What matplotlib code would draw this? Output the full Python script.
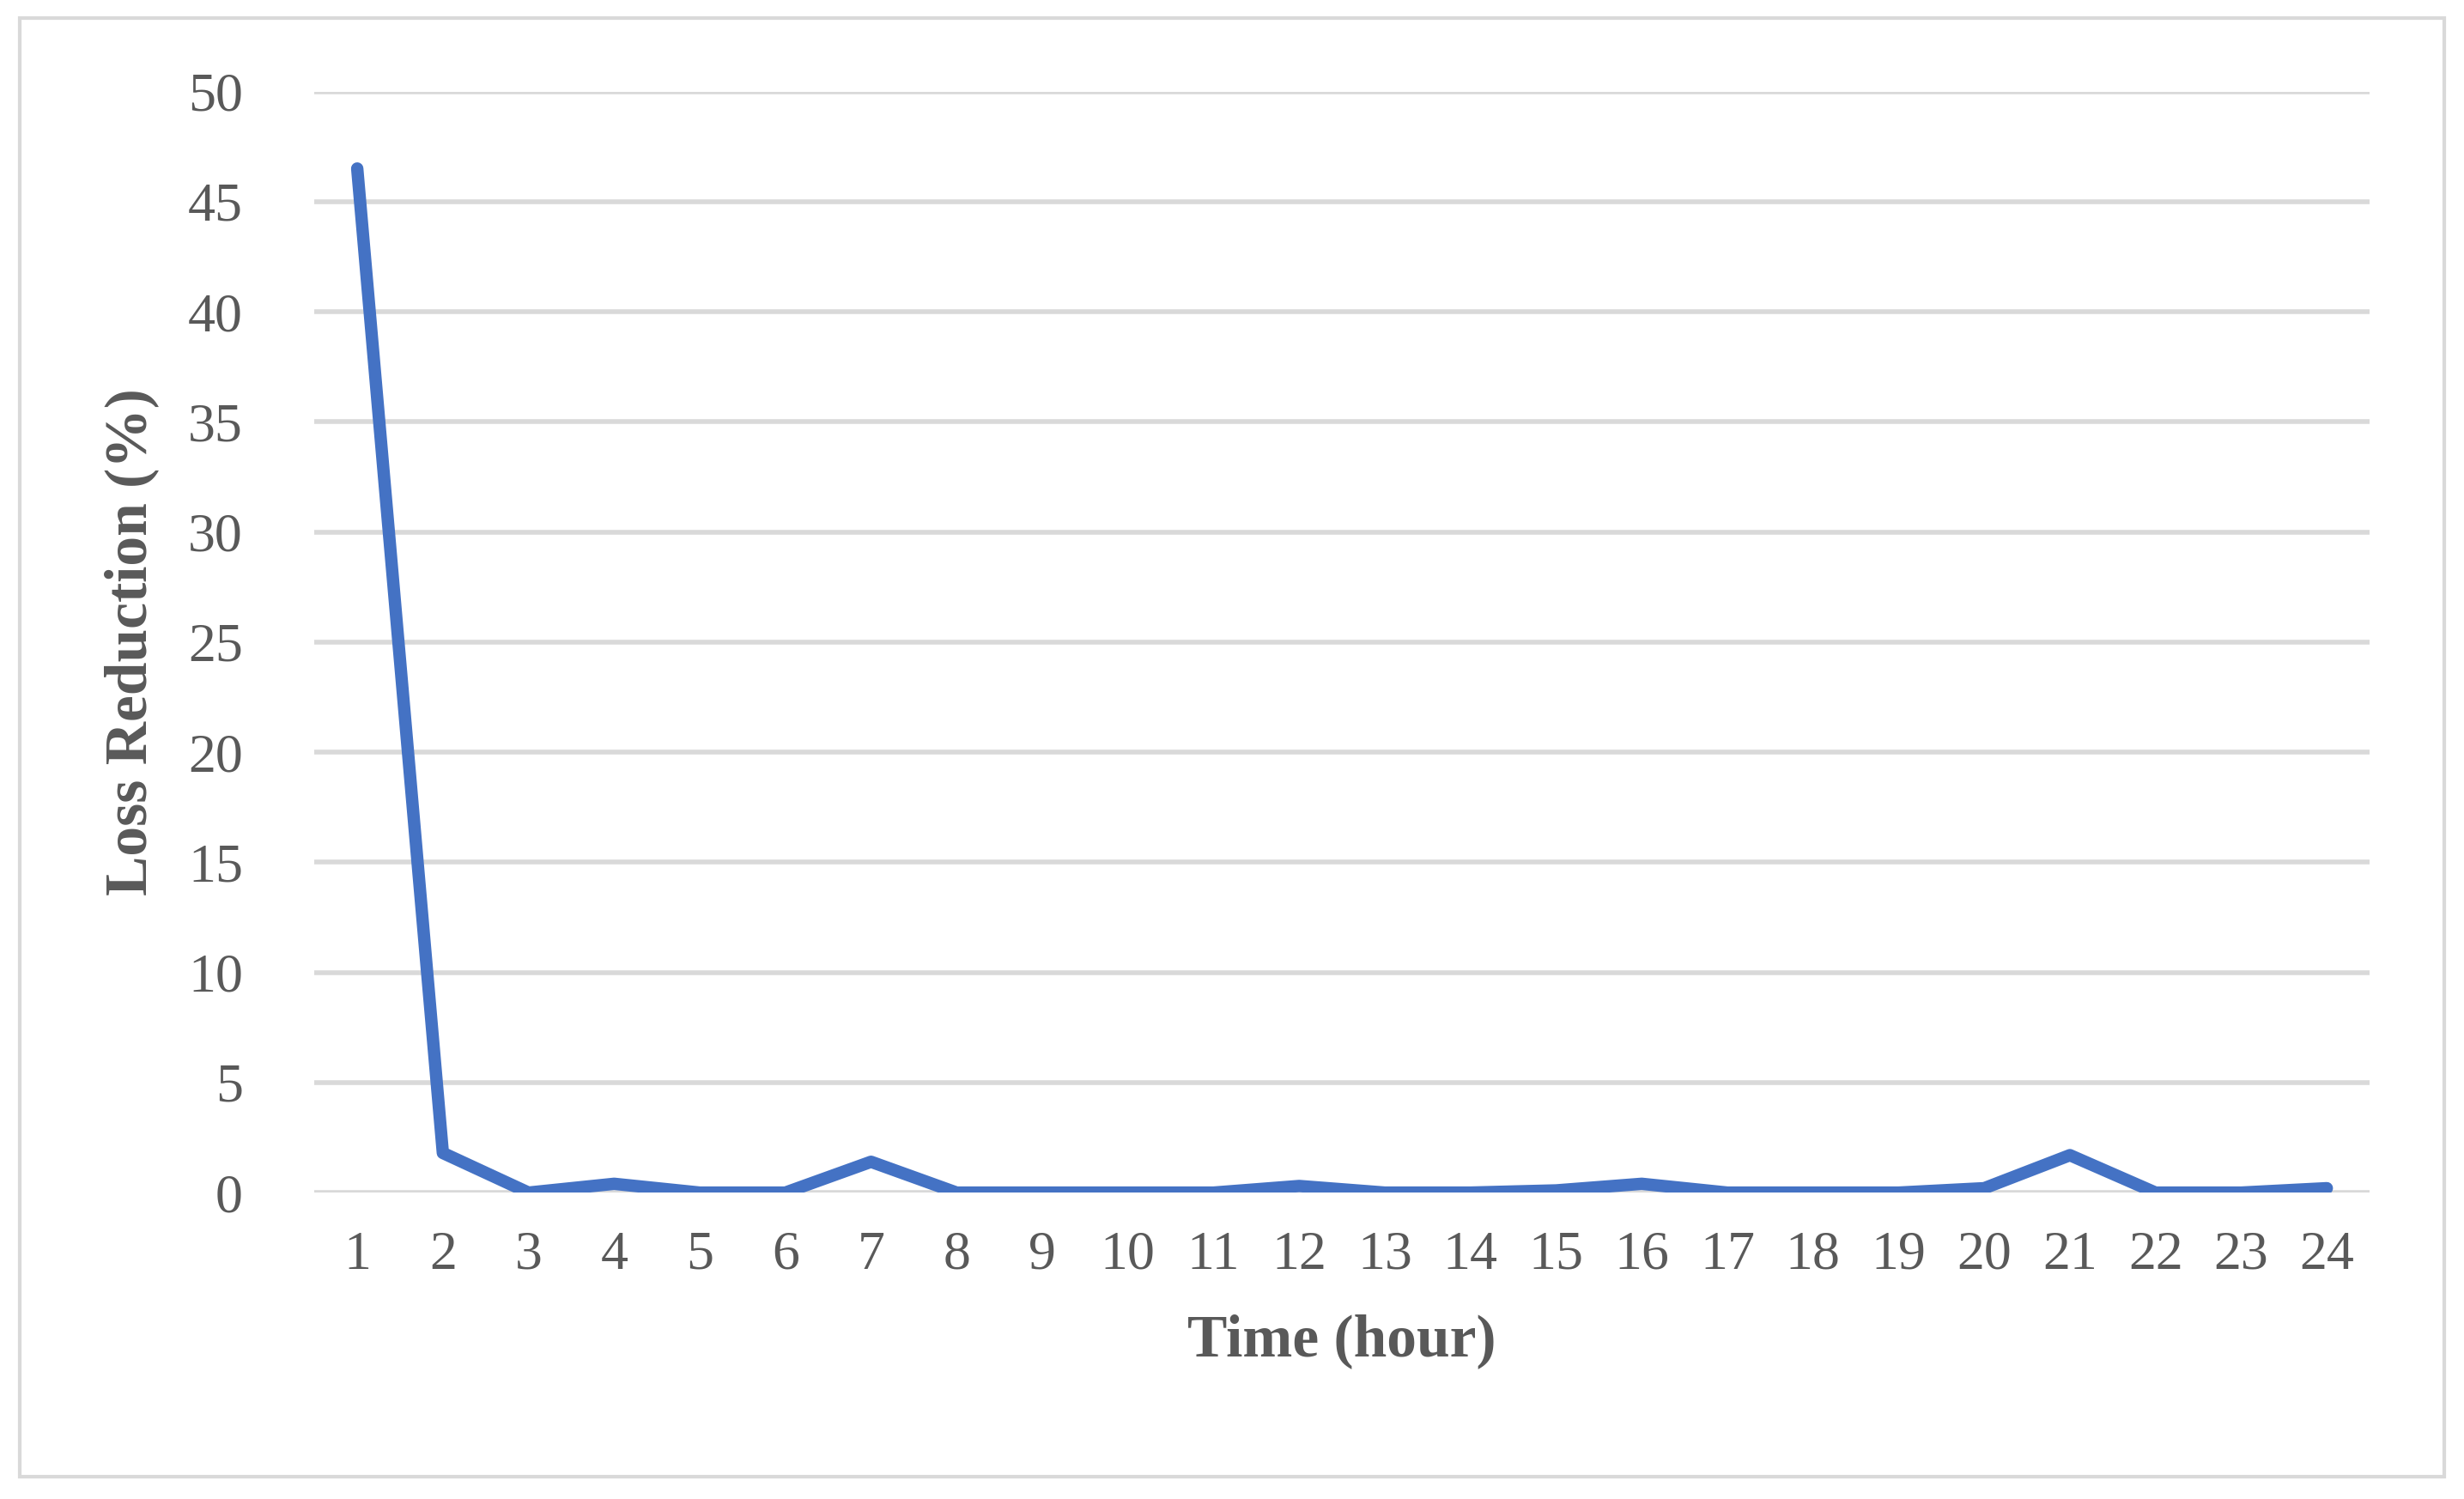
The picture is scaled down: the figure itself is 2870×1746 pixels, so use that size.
import matplotlib
matplotlib.use("Agg")
import matplotlib.pyplot as plt
from matplotlib.patches import Rectangle

hours = list(range(1, 25))
loss_reduction = [46.5, 1.8, 0.0, 0.4, 0.0, 0.0, 1.4, 0.0, 0.0, 0.0, 0.0, 0.3,
                  0.0, 0.0, 0.1, 0.4, 0.0, 0.0, 0.0, 0.2, 1.7, 0.0, 0.0, 0.2]
yticks = list(range(0, 51, 5))

plt.rcParams['font.family'] = ['Liberation Serif', 'DejaVu Serif']
fig = plt.figure(figsize=(14.35, 8.73), dpi=200)
fig.patches.append(Rectangle((0.008, 0.015), 0.984, 0.973, transform=fig.transFigure,
                             fill=False, edgecolor='#d9d9d9', linewidth=1.5))
ax = fig.add_axes([0.1276, 0.2044, 0.8341, 0.7346])
ax.plot(hours, loss_reduction, color='#4472c4', linewidth=5.2, solid_capstyle='round', zorder=3)
ax.set_xlim(0.5, 24.5)
ax.set_ylim(0, 50)
ax.set_yticks(yticks)
ax.set_xticks(hours)
ax.grid(axis='y', color='#d9d9d9', linewidth=2)
for s in ax.spines.values():
    s.set_visible(False)
ax.tick_params(length=0, labelsize=23, colors='#595959', pad=16)
ax.tick_params(axis='y', pad=30)
ax.set_xlabel('Time (hour)', fontsize=25, fontweight='bold', color='#595959', labelpad=14)
ax.set_ylabel('Loss Reduction (%)', fontsize=25, fontweight='bold', color='#595959', labelpad=12)
fig.savefig('out.png', dpi=200)
